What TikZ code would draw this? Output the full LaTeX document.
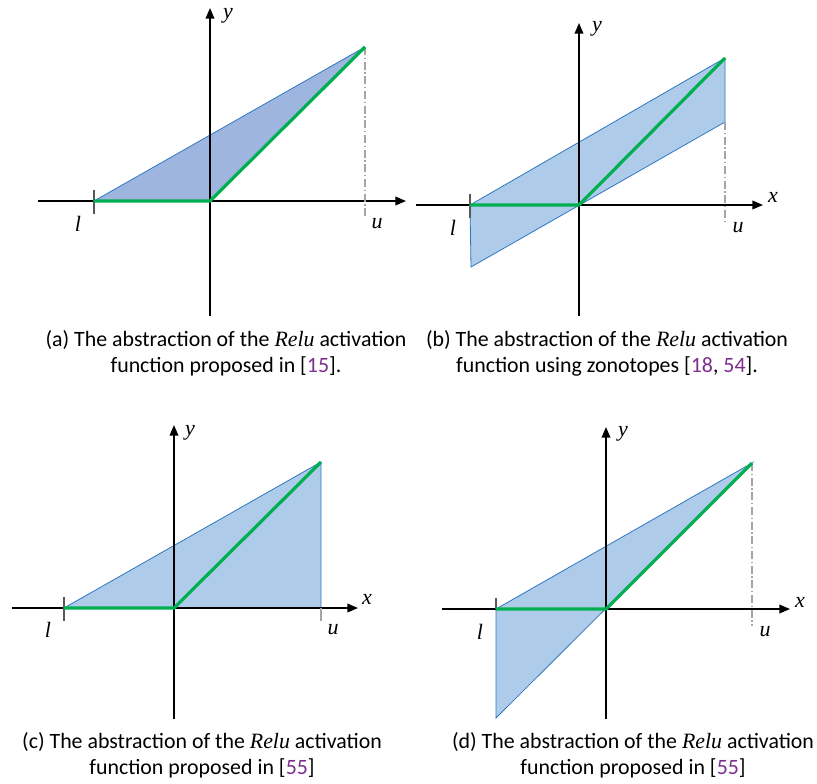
\documentclass[tikz,border=0pt]{standalone}
\usepackage{fontspec}
\setmainfont{Carlito}
\newfontfamily\varfont{Liberation Serif}
\usetikzlibrary{arrows.meta}
\definecolor{relugreen}{HTML}{00B050}
\definecolor{hullblue}{HTML}{2E78C2}
\definecolor{hullfill}{HTML}{AECBEA}
\definecolor{hullfilldark}{HTML}{9EB5E0}
\definecolor{citepurple}{HTML}{7D2E8E}
\definecolor{guidegrey}{HTML}{A5A5A5}

\tikzset{
  axis/.style={line width=1.15pt,-{Triangle[length=8pt,width=6.5pt]}},
  relu/.style={relugreen,line width=2.4pt,line join=round},
  hull/.style={fill=hullfill,draw=hullblue,line width=0.6pt},
  guide/.style={guidegrey,line width=0.8pt,dash pattern=on 6pt off 2pt on 1pt off 2pt},
  tickmark/.style={black!65,line width=0.9pt},
  varlabel/.style={font=\fontsize{16.5}{16.5}\selectfont\varfont\itshape,inner sep=0pt},
  caption/.style={align=center,font=\fontsize{16.4}{19.5}\selectfont,inner sep=0pt},
}
\newcommand{\citenum}[1]{{\color{citepurple}#1}}
\newcommand{\relu}{{\varfont\itshape Relu}}

\begin{document}
\begin{tikzpicture}[x=0.75pt,y=0.75pt]
  \fill[white] (0,0) rectangle (817,-783);
  \useasboundingbox (0,0) rectangle (817,-783);

  % (a) triangle relaxation
  \begin{scope}[shift={(210,-201)}]
    \coordinate (O) at (0,0);
    \coordinate (L) at (-116,0);
    \coordinate (U) at (155,0);
    \coordinate (T) at (155,154);
    \coordinate (xs) at (-172,0);
    \coordinate (xe) at (196,0);
    \coordinate (ys) at (0,-115);
    \coordinate (ye) at (0,193);
    \fill[hullfilldark] (L) -- (T) -- (O) -- cycle;
    \draw[hullblue,line width=0.6pt] (L) -- (T);
    \draw[axis] (xs) -- (xe);
    \draw[axis] (ys) -- (ye);
    \draw[guide] (T) -- ([yshift=-12]U);
    \draw[tickmark] ([yshift=8]L) -- ([yshift=-10]L);
    \draw[relu] (L) -- (O) -- (T);
    \node[varlabel] (ylab) at (18,185) {y};
    \node[varlabel] (llab) at (-132,-23) {l};
    \node[varlabel] (ulab) at (167,-23) {u};
    \node[caption] (capa) at (16,-152)
      {(a) The abstraction of the \relu{} activation\\function proposed in [\citenum{15}].};
  \end{scope}

  % (b) zonotope
  \begin{scope}[shift={(579,-205)}]
    \coordinate (O) at (0,0);
    \coordinate (L) at (-109,0);
    \coordinate (U) at (146,0);
    \coordinate (T) at (146,147);
    \coordinate (R) at (146,83);
    \coordinate (B) at (-108,-62);
    \coordinate (xs) at (-163,0);
    \coordinate (xe) at (184,0);
    \coordinate (ys) at (0,-111);
    \coordinate (ye) at (0,182);
    \draw[hull] (L) -- (T) -- (R) -- (B) -- cycle;
    \draw[axis] (xs) -- (xe);
    \draw[axis] (ys) -- (ye);
    \draw[guide] (R) -- ([yshift=-12]U);
    \draw[tickmark] ([yshift=8]L) -- ([yshift=-10]L);
    \draw[relu] (L) -- (O) -- (T);
    \node[varlabel] (xlab) at (194,8) {x};
    \node[varlabel] (ylab) at (18,176) {y};
    \node[varlabel] (llab) at (-126,-23) {l};
    \node[varlabel] (ulab) at (159,-23) {u};
    \node[caption] (capb) at (28,-148)
      {(b) The abstraction of the \relu{} activation\\function using zonotopes [\citenum{18}, \citenum{54}].};
  \end{scope}

  % (c) triangle with vertical edge at u
  \begin{scope}[shift={(174,-608)}]
    \coordinate (O) at (0,0);
    \coordinate (L) at (-110,0);
    \coordinate (U) at (147,0);
    \coordinate (T) at (147,146);
    \coordinate (xs) at (-162,0);
    \coordinate (xe) at (184,0);
    \coordinate (ys) at (0,-111);
    \coordinate (ye) at (0,183);
    \draw[hull] (L) -- (T) -- (U) -- cycle;
    \draw[axis] (xs) -- (xe);
    \draw[axis] (ys) -- (ye);
    \draw[guidegrey,line width=0.8pt] (U) -- ([yshift=-10]U);
    \draw[tickmark] ([yshift=8]L) -- ([yshift=-10]L);
    \draw[relu] (L) -- (O) -- (T);
    \node[varlabel] (xlab) at (193,9) {x};
    \node[varlabel] (ylab) at (16,175) {y};
    \node[varlabel] (llab) at (-126,-22) {l};
    \node[varlabel] (ulab) at (159,-22) {u};
    \node[caption] (capc) at (28,-147)
      {(c) The abstraction of the \relu{} activation\\function proposed in [\citenum{55}]};
  \end{scope}

  % (d) triangle with vertical edge at l
  \begin{scope}[shift={(606,-609)}]
    \coordinate (O) at (0,0);
    \coordinate (L) at (-110,0);
    \coordinate (U) at (146,0);
    \coordinate (T) at (146,146);
    \coordinate (B) at (-110,-109);
    \coordinate (xs) at (-164,0);
    \coordinate (xe) at (184,0);
    \coordinate (ys) at (0,-110);
    \coordinate (ye) at (0,182);
    \draw[hull] (L) -- (T) -- (B) -- cycle;
    \draw[axis] (xs) -- (xe);
    \draw[axis] (ys) -- (ye);
    \draw[guide] (T) -- ([yshift=-13]U);
    \draw[tickmark] ([yshift=8]L) -- (L);
    \draw[relu] (L) -- (O) -- (T);
    \node[varlabel] (xlab) at (194,7) {x};
    \node[varlabel] (ylab) at (17,175) {y};
    \node[varlabel] (llab) at (-126,-23) {l};
    \node[varlabel] (ulab) at (159,-23) {u};
    \node[caption] (capd) at (27,-146)
      {(d) The abstraction of the \relu{} activation\\function proposed in [\citenum{55}]};
  \end{scope}
\end{tikzpicture}
\end{document}
